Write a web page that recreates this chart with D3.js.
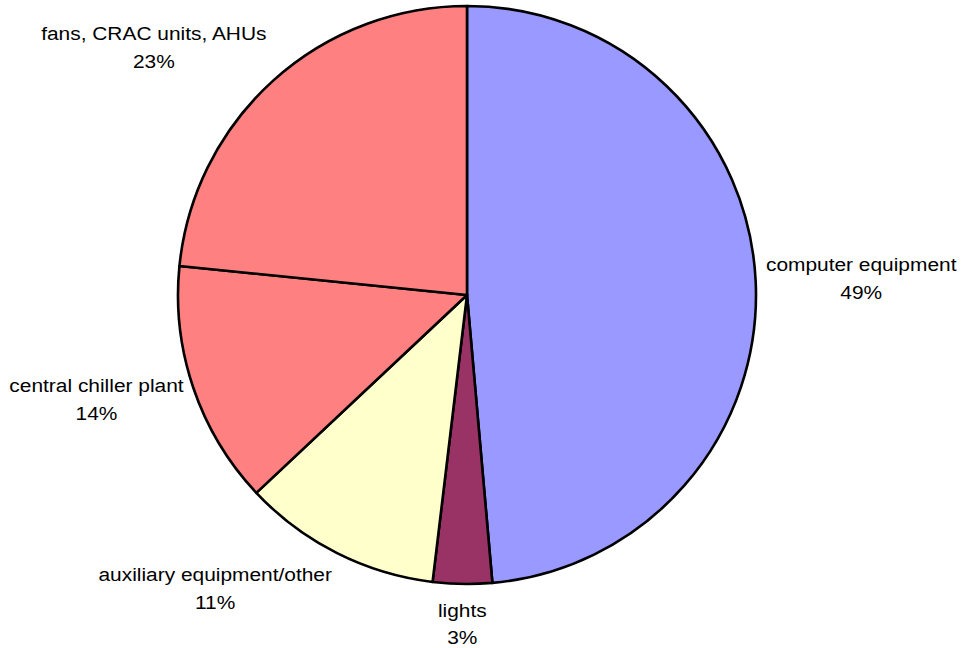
<!DOCTYPE html>
<html>
<head>
<meta charset="utf-8">
<script src="https://cdn.jsdelivr.net/npm/d3@7"></script>
<style>
  body { margin: 0; background: #fff; }
  text { font-family: "Liberation Sans", Arial, sans-serif; fill: #000; }
</style>
</head>
<body>
<div id="chart"></div>
<script>
// slices, clockwise from 12 o'clock
const categories = ["computer equipment", "lights", "auxiliary equipment/other", "central chiller plant", "fans, CRAC units, AHUs"];
const shares = [48.6, 3.3, 11.1, 13.6, 23.4];
const percentLabels = ["49%", "3%", "11%", "14%", "23%"];
const sliceColors = ["#9999ff", "#993366", "#ffffcc", "#ff8080", "#ff8080"];

const width = 963, height = 648;
const cx = 467, cy = 295, radius = 289;

const data = categories.map((c, i) => ({name: c, value: shares[i], pct: percentLabels[i], color: sliceColors[i]}));

const svg = d3.select("#chart").append("svg")
    .attr("width", width)
    .attr("height", height);

const g = svg.append("g")
    .attr("transform", `translate(${cx},${cy})`);

const pie = d3.pie()
    .sort(null)
    .value(d => d.value);

const arc = d3.arc()
    .innerRadius(0)
    .outerRadius(radius);

const arcs = pie(data);

g.selectAll("path.slice")
  .data(arcs)
  .enter().append("path")
    .attr("class", "slice")
    .attr("d", arc)
    .attr("fill", d => d.data.color)
    .attr("stroke", "#000")
    .attr("stroke-width", 2.6)
    .attr("stroke-linejoin", "round");

// labels sit just outside the rim, box pushed away from the pie
const fontSize = 19, lineGap = 27.5, blockH = 46;
const gapX = 10, gapY = 19;

g.selectAll("g.label")
  .data(arcs)
  .enter().append("g")
    .attr("class", "label")
    .each(function(d) {
      const a = (d.startAngle + d.endAngle) / 2;
      const s = Math.sin(a), c = Math.cos(a);
      const px = (radius + gapX) * s;
      const py = -(radius + gapY) * c;
      const anchor = Math.abs(s) < 0.2 ? "middle" : (s > 0 ? "start" : "end");
      const top = py - blockH * (1 + c) / 2;
      const base1 = top + 14;
      const sel = d3.select(this);
      [d.data.name, d.data.pct].forEach((t, i) => {
        sel.append("text")
          .attr("transform", `translate(${px},${base1 + i * lineGap}) scale(1.1,1)`)
          .attr("text-anchor", "middle")
          .style("font-size", fontSize + "px")
          .text(t);
      });
      // shift the whole block so its near edge touches the anchor point
      if (anchor !== "middle") {
        const w = d3.max(sel.selectAll("text").nodes(), n => n.getBBox().width) * 1.1;
        const shift = anchor === "start" ? w / 2 : -w / 2;
        sel.attr("transform", `translate(${shift},0)`);
      }
    });
</script>
</body>
</html>
